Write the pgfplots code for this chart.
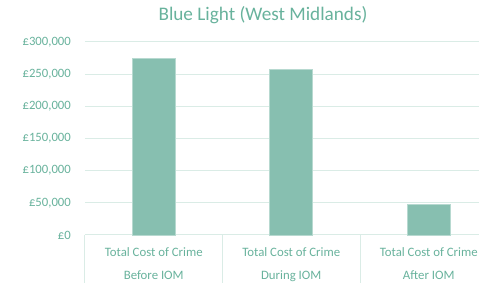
\documentclass[border=0pt]{standalone}
\usepackage{pgfplots}
\pgfplotsset{compat=1.18}
\usepackage{fontspec}
\setmainfont{Carlito}
\definecolor{barc}{RGB}{135,191,176}
\definecolor{txt}{RGB}{104,178,156}
\definecolor{gridc}{RGB}{218,236,230}
\begin{document}
\begin{tikzpicture}[x=1pt,y=1pt]
\useasboundingbox (0,0) rectangle (479,286);
\node[text=txt, font=\fontsize{19.2}{22}\selectfont] at (263,271) {Blue Light (West Midlands)};
\begin{axis}[
  at={(85pt,51pt)}, anchor=south west, scale only axis,
  width=412.5pt, height=193pt,
  xmin=-0.5, xmax=2.5, ymin=0, ymax=300000,
  axis line style={draw=none},
  clip=false,
  scaled y ticks=false,
  ybar, bar width=43pt,
  ytick={0,50000,100000,150000,200000,250000,300000},
  yticklabels={£0,{£50,000},{£100,000},{£150,000},{£200,000},{£250,000},{£300,000}},
  yticklabel style={font=\fontsize{12.7}{14}\selectfont, text=txt, inner sep=0pt, anchor=east, xshift=-14pt},
  ymajorgrids, grid style={draw=gridc, line width=1pt},
  xtick={0,1,2},
  xticklabels={{Total Cost of Crime\\Before IOM},{Total Cost of Crime\\During IOM},{Total Cost of Crime\\After IOM}},
  xticklabel style={align=center, font=\fontsize{12.8}{23}\selectfont, text=txt, inner sep=0pt, anchor=north, yshift=-12pt},
  xtick style={draw=none}, ytick style={draw=none},
  major tick length=0pt,
]
\addplot[fill=barc, draw=barc!60!white, line width=0.6pt] coordinates {(0,275000) (1,257000) (2,48000)};
\draw[gridc, line width=1pt] (axis cs:-0.5,0) -- ([yshift=-48pt]axis cs:-0.5,0);
\draw[gridc, line width=1pt] (axis cs:0.5,0) -- ([yshift=-48pt]axis cs:0.5,0);
\draw[gridc, line width=1pt] (axis cs:1.5,0) -- ([yshift=-48pt]axis cs:1.5,0);
\draw[gridc, line width=1pt] (axis cs:2.5,0) -- ([yshift=-48pt]axis cs:2.5,0);
\end{axis}
\end{tikzpicture}
\end{document}
